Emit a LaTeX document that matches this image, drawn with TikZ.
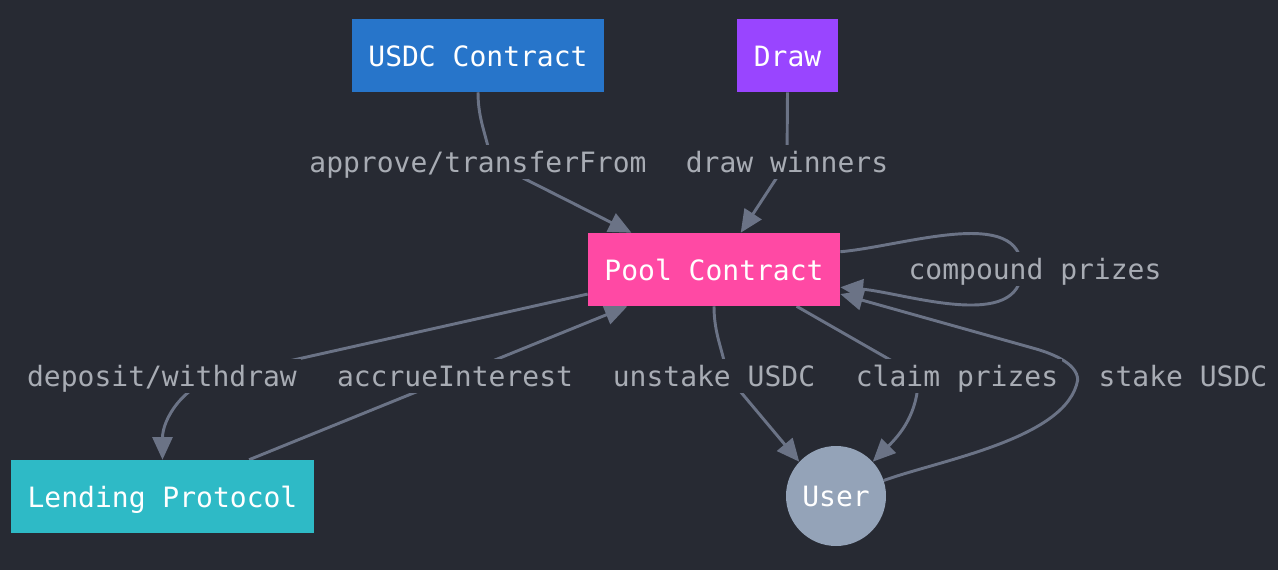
\documentclass[tikz,border=0pt]{standalone}
\usepackage{fontspec}
\setmonofont{DejaVu Sans Mono}
\usepackage{tikz}
\usetikzlibrary{arrows.meta}
\definecolor{canvas}{HTML}{272A33}
\definecolor{usdcblue}{HTML}{2775CA}
\definecolor{drawpurple}{HTML}{9945FF}
\definecolor{poolpink}{HTML}{FF49A4}
\definecolor{lendteal}{HTML}{2EBAC6}
\definecolor{usergray}{HTML}{94A3B8}
\definecolor{linkgray}{HTML}{6B7386}
\definecolor{labelgray}{HTML}{A8ACB4}
\pgfdeclarelayer{bg}
\pgfdeclarelayer{edges}
\pgfsetlayers{bg,edges,main}

\begin{document}
\begin{tikzpicture}[x=0.75pt,y=-0.75pt,
  font=\ttfamily\fontsize{21}{25}\selectfont,
  box/.style={rectangle, text=white, minimum height=54.75pt, inner xsep=12.4pt,
    text height=17pt, text depth=1pt},
  elabel/.style={fill=canvas, text=labelgray, inner xsep=3pt, inner ysep=4pt,
    text height=17pt, text depth=1pt},
  link/.style={draw=linkgray, line width=2.2pt, -{Triangle[length=17pt,width=15pt]}}]
\useasboundingbox (0,0) rectangle (1278,570);
\begin{pgfonlayer}{bg}
\fill[canvas] (0,0) rectangle (1278,570);
\end{pgfonlayer}

\node[box, fill=usdcblue] (usdc) at (478,55.5) {USDC Contract};
\node[box, fill=drawpurple] (drawer) at (787.5,55.5) {Draw};
\node[box, fill=poolpink] (pool) at (714,269.5) {Pool Contract};
\node[box, fill=lendteal] (lending) at (162.5,496.5) {Lending Protocol};
\node[circle, fill=usergray, text=white, minimum size=75pt, inner sep=0pt] (user) at (836,496) {User};

\node[elabel] (lApprove) at (478,162) {approve/transferFrom};
\node[elabel] (lWinners) at (787,162) {draw winners};
\node[elabel] (lCompound) at (1035,269) {compound prizes};
\node[elabel] (lDeposit) at (162,376) {deposit/withdraw};
\node[elabel] (lAccrue) at (455,376) {accrueInterest};
\node[elabel] (lUnstake) at (714,376) {unstake USDC};
\node[elabel] (lClaim) at (957,376) {claim prizes};
\node[elabel] (lStake) at (1183,376) {stake USDC};

\begin{pgfonlayer}{edges}
\draw[link] (usdc.south) to[out=-90,in=100] ([xshift=10pt]lApprove.center) -- (pool.156);
\draw[link] (drawer.south) -- (lWinners.center) -- (pool.54);
\draw[link] (pool.8) to[out=5,in=90,looseness=0.9] ([xshift=-10pt]lCompound.center)
  to[out=-90,in=-5,looseness=0.9] (pool.-8);
\draw[link] (pool.191) -- ([xshift=45pt]lDeposit.center) to[out=192,in=90] (lending.north);
\draw[link] (lending.23) -- (pool.203);
\draw[link] (pool.south) to[out=-90,in=100] ([xshift=10pt]lUnstake.center) -- (user.137);
\draw[link] (pool.-24) -- ([xshift=-29pt]lClaim.center) to[out=-90,in=45] (user.43);
\draw[link] (user.18) to[out=20,in=-100,looseness=0.7] ([xshift=-79pt,yshift=-3pt]lStake.center)
  to[out=90,in=-15,looseness=0.8] ++(-45,-32) -- (pool.-11);
\end{pgfonlayer}
\end{tikzpicture}
\end{document}
